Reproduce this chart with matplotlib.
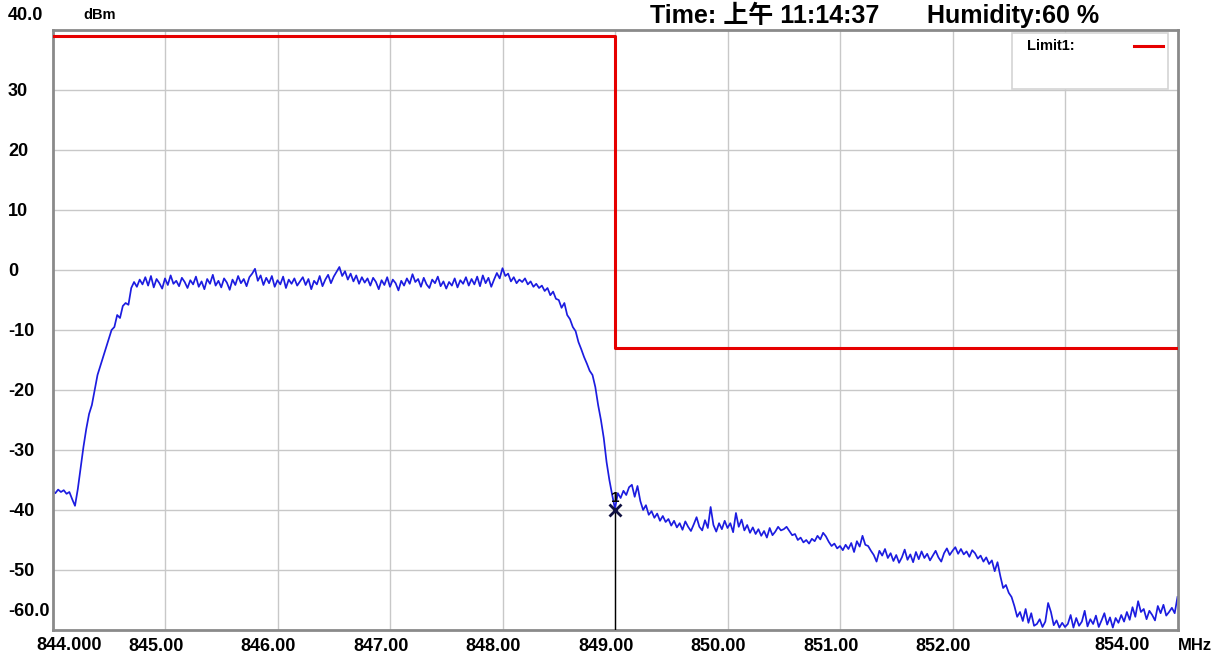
import numpy as np
import matplotlib
matplotlib.use("Agg")
import matplotlib.pyplot as plt
from matplotlib.patches import Rectangle
from matplotlib.lines import Line2D
from matplotlib.transforms import ScaledTranslation

# ---- data -------------------------------------------------------------
f_start, f_stop = 844.0, 854.0          # MHz, sweep span

# trace level (dBm), sweep points at 0.025 MHz steps from 844.000 to 854.000
level = [
    # 844.000 - 844.725  (rising edge)
    -36.8, -37.2, -36.6, -37.0, -36.7, -37.3, -37.0, -38.2, -39.3, -36.5,
    -33.0, -29.5, -26.5, -24.0, -22.5, -20.0, -17.5, -16.0, -14.5, -13.0,
    -11.5, -10.0, -9.5, -7.5, -8.0, -6.0, -5.5, -5.8, -3.0, -2.0,
    # 844.750 - 848.475  (in-band plateau)
    -2.8, -1.6, -2.4, -1.2, -2.6, -1.0, -2.9, -1.5, -2.2, -3.1,
    -1.4, -2.5, -0.9, -2.3, -1.8, -2.7, -1.3, -2.0, -3.0, -1.7,
    -2.4, -1.1, -2.8, -1.9, -3.2, -1.5, -2.3, -0.8, -2.6, -1.8,
    -2.9, -1.4, -2.1, -3.3, -1.6, -2.5, -1.0, -2.2, -1.5, -2.7,
    -1.2, -0.6, 0.2, -1.8, -0.9, -2.5, -1.3, -2.2, -1.0, -2.8,
    -1.7, -2.4, -1.1, -3.0, -1.6, -2.3, -1.4, -2.6, -1.9, -1.2,
    -2.5, -1.5, -3.2, -1.8, -2.4, -1.0, -2.7, -1.6, -0.8, -2.2,
    -1.1, -0.3, 0.5, -1.0, -0.2, -1.6, -0.6, -1.9, -0.9, -2.3,
    -1.2, -2.1, -1.4, -2.6, -1.3, -2.0, -3.2, -1.7, -2.5, -1.2,
    -2.8, -1.6, -2.2, -3.4, -1.8, -2.6, -1.4, -2.3, -0.7, -2.0,
    -1.5, -2.8, -1.3, -2.4, -3.0, -1.6, -2.2, -1.1, -2.7, -1.9,
    -3.1, -2.0, -2.6, -1.4, -2.9, -1.7, -2.3, -1.2, -2.6, -1.5,
    -2.4, -1.1, -2.7, -0.9, -2.2, -1.3, -2.8, -1.6, -0.5, -1.4,
    0.3, -1.0, -0.6, -1.9, -1.2, -2.2, -1.6, -2.0, -1.4, -2.4,
    -1.9, -2.8, -2.3, -3.0, -2.6, -3.5, -3.0, -4.2, -3.6, -4.8,
    # 848.500 - 849.000  (falling edge)
    -5.0, -6.3, -5.5, -7.5, -8.2, -9.5, -10.2, -12.0, -13.2, -14.5,
    -15.6, -16.8, -17.5, -19.5, -22.5, -25.0, -28.0, -32.0, -35.0, -37.5,
    -39.8,
    # 849.025 - 852.475  (out of band)
    -37.2, -38.0, -36.8, -37.5, -36.2, -35.8, -37.8, -36.0, -38.5,
    -40.0, -39.2, -40.8, -40.2, -41.3, -40.6, -41.8, -41.0, -42.0, -41.5,
    -42.6, -41.8, -42.9, -42.2, -43.3, -41.9, -42.8, -43.5, -42.4, -41.2,
    -42.8, -43.4, -41.7, -43.0, -39.5, -42.5, -43.6, -42.2, -43.2, -41.8,
    -43.0, -42.2, -43.7, -40.5, -42.8, -41.6, -43.4, -42.5, -43.8, -42.9,
    -44.0, -43.2, -44.3, -43.5, -44.6, -43.0, -44.2, -43.6, -42.8, -43.4,
    -43.2, -42.8, -43.5, -44.2, -44.0, -45.0, -44.6, -45.4, -45.0, -45.6,
    -44.8, -45.2, -44.3, -44.9, -43.8, -44.4, -45.3, -46.0, -45.6, -46.4,
    -46.0, -46.7, -45.8, -46.5, -45.5, -47.0, -45.2, -46.1, -44.3, -45.8,
    -46.0, -46.8, -47.5, -48.6, -46.8, -47.6, -46.5, -48.0, -47.2, -48.5,
    -47.5, -48.8, -47.9, -46.6, -48.3, -47.4, -48.7, -47.0, -48.2, -46.9,
    -48.0, -47.3, -48.4, -47.6, -46.8, -47.9, -48.6, -47.2, -46.4, -47.5,
    -46.8, -46.2, -47.3, -46.5, -47.4, -46.9, -47.8, -46.7, -47.2, -48.1,
    -47.6, -48.6, -47.9, -49.0, -48.4, -50.2, -48.7, -51.0, -53.0, -52.5,
    # 852.500 - 854.000  (noise floor)
    -53.8, -54.5, -56.0, -57.8, -57.0, -58.5, -56.5, -58.8, -57.2, -59.3,
    -59.0, -58.2, -59.5, -58.6, -55.5, -57.0, -59.2, -58.4, -59.6, -58.8,
    -59.5, -59.0, -57.5, -59.6, -58.0, -59.3, -58.6, -56.8, -59.4, -58.2,
    -59.0, -57.6, -59.5, -58.4, -57.2, -59.1, -57.9, -59.6, -58.0, -58.8,
    -57.5, -58.6, -57.0, -58.3, -56.2, -57.8, -55.2, -57.0, -56.5, -58.2,
    -56.8, -57.5, -58.4, -56.0, -57.2, -55.8, -57.6, -57.0, -56.3, -57.2,
    -54.5,
]
freq = np.linspace(f_start, f_stop, len(level))

# limit line
limit_f = [844.0, 849.0, 849.0, 854.0]
limit_db = [39.0, 39.0, -13.0, -13.0]

# marker 1
mk_f, mk_db = 849.0, -40.0

xticks = [845, 846, 847, 848, 849, 850, 851, 852]
xticklabels = ["845.00", "846.00", "847.00", "848.00", "849.00",
               "850.00", "851.00", "852.00"]
xgrid = [845, 846, 847, 848, 849, 850, 851, 852, 853]
yticks = [-50, -40, -30, -20, -10, 0, 10, 20, 30]
yticklabels = ["-50", "-40", "-30", "-20", "-10", "0", "10", "20", "30"]

time_str = "Time: 上午 11:14:37"
humid_str = "Humidity:60 %"

# ---- figure -----------------------------------------------------------
W, H = 1224, 656
fig = plt.figure(figsize=(W / 100, H / 100), dpi=100)
ax = fig.add_axes([52.5 / W, 1 - 630 / H, 1125 / W, 600 / H])

FONT = ["Liberation Sans", "Noto Sans CJK SC", "DejaVu Sans"]
grid_c = "#c8c8c8"

ax.set_xlim(f_start, f_stop)
ax.set_ylim(-60, 40)

for g in xgrid:
    ax.axvline(g, color=grid_c, lw=1, zorder=0)
for g in yticks:
    ax.axhline(g, color=grid_c, lw=1, zorder=0)

ax.plot(limit_f, limit_db, color="#e60000", lw=2.2, zorder=3)
ax.plot(freq, level, color="#1c1ce0", lw=1.25, zorder=2)

# marker
ax.plot([mk_f, mk_f], [mk_db, -60], color="black", lw=1, zorder=4)
ax.plot(mk_f, mk_db, marker="x", color="#101040", ms=8, mew=2, zorder=5)
ax.text(mk_f, mk_db + 0.8, "1", ha="center", va="bottom", fontsize=11,
        fontweight="bold", family=FONT, zorder=5)

# ticks
ax.set_xticks(xticks)
ax.set_xticklabels(xticklabels, fontsize=13, fontweight="bold", family=FONT)
ax.set_yticks(yticks)
ax.set_yticklabels(yticklabels, fontsize=13, fontweight="bold", family=FONT)
ax.tick_params(axis="both", length=0)
ax.tick_params(axis="x", pad=6)
ax.tick_params(axis="y", pad=32)
for lbl in ax.get_yticklabels():
    lbl.set_horizontalalignment("left")
shift = ScaledTranslation(-9 / 100, 0, fig.dpi_scale_trans)
for lbl in ax.get_xticklabels():
    lbl.set_transform(lbl.get_transform() + shift)

for sp in ax.spines.values():
    sp.set_color("#8a8a8a")
    sp.set_linewidth(2)

# extra axis texts
fig.text(8 / W, 1 - 16 / H, "40.0", fontsize=13, fontweight="bold",
         family=FONT, va="center", ha="left")
fig.text(83 / W, 1 - 15 / H, "dBm", fontsize=10.5, fontweight="bold",
         family=FONT, va="center", ha="left")
fig.text(8 / W, 1 - 612 / H, "-60.0", fontsize=13, fontweight="bold",
         family=FONT, va="center", ha="left")
fig.text(69 / W, 1 - 645 / H, "844.000", fontsize=13, fontweight="bold",
         family=FONT, va="center", ha="center")
fig.text(1122 / W, 1 - 645 / H, "854.00", fontsize=13, fontweight="bold",
         family=FONT, va="center", ha="center")
fig.text(1178 / W, 1 - 645 / H, "MHz", fontsize=12, fontweight="bold",
         family=FONT, va="center", ha="left")

# header
fig.text(650 / W, 1 - 23 / H, time_str, fontsize=18, fontweight="bold",
         family=FONT, va="baseline", ha="left")
fig.text(927 / W, 1 - 23 / H, humid_str, fontsize=18, fontweight="bold",
         family=FONT, va="baseline", ha="left")

# legend box
ax.add_patch(Rectangle((0.853, 0.9017), 0.1386, 0.0933, transform=ax.transAxes,
                       facecolor="white", edgecolor="#d4d4d4", lw=1.2, zorder=6))
ax.text(0.8662, 0.973, "Limit1:", transform=ax.transAxes, fontsize=10.5,
        fontweight="bold", family=FONT, va="center", ha="left", zorder=7)
ax.add_line(Line2D([0.9613, 0.9871], [0.973, 0.973], transform=ax.transAxes,
                   color="#e60000", lw=2.2, zorder=7))

fig.savefig("out.png", dpi=100)
